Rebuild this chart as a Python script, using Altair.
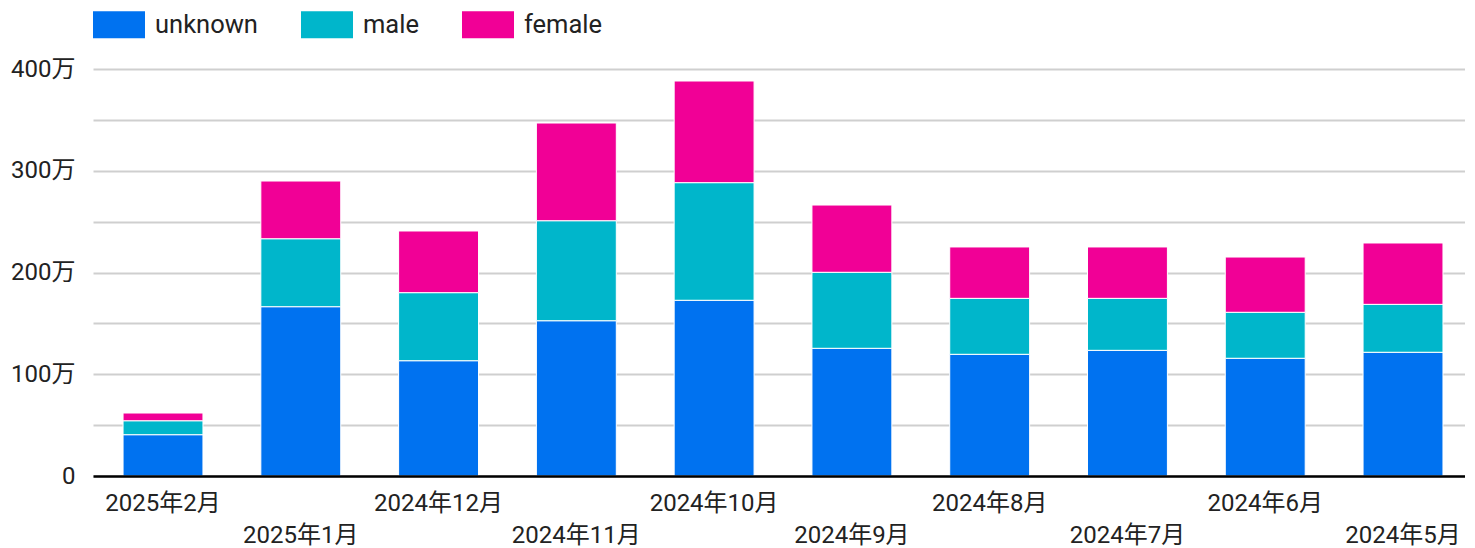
import altair as alt
import pandas as pd

months = ["2025年2月", "2025年1月", "2024年12月", "2024年11月", "2024年10月",
          "2024年9月", "2024年8月", "2024年7月", "2024年6月", "2024年5月"]
series = ["unknown", "male", "female"]
colors = ["#0072f0", "#00b6cb", "#f10096"]
unknown = [406000, 1664000, 1133000, 1526000, 1727000, 1255000, 1196000, 1235000, 1157000, 1216000]
male = [137000, 668000, 669000, 983000, 1156000, 747000, 550000, 511000, 452000, 471000]
female = [76000, 567000, 606000, 960000, 999000, 661000, 505000, 505000, 543000, 603000]
y_ticks = [0, 500000, 1000000, 1500000, 2000000, 2500000, 3000000, 3500000, 4000000]

rows = []
for i, m in enumerate(months):
    for j, (s, vals) in enumerate(zip(series, [unknown, male, female])):
        rows.append({"month": m, "gender": s, "value": vals[i], "order": j})
df = pd.DataFrame(rows)

FONT = "Roboto, 'Noto Sans CJK JP', sans-serif"
month_list = "[" + ",".join("'" + m + "'" for m in months) + "]"

chart = alt.Chart(df).mark_bar(stroke="white", strokeWidth=1).encode(
    x=alt.X("month:N", sort=months, title=None,
            scale=alt.Scale(paddingInner=0.42, paddingOuter=0.189, align=0.577),
            axis=alt.Axis(labelAngle=0, ticks=False, domainColor="black", domainWidth=2.5,
                          labelFontSize=24, labelColor="#222222", labelFont=FONT,
                          labelOverlap=False, labelBound=False, zindex=1,
                          labelPadding={"condition": {"test": "indexof(" + month_list + ", datum.value) % 2 == 1", "value": 47}, "value": 15})),
    y=alt.Y("value:Q", stack="zero", title=None,
            scale=alt.Scale(domain=[0, 4000000], nice=False),
            axis=alt.Axis(values=y_ticks, ticks=False, domain=False, gridColor="#cfcfcf", gridWidth=2,
                          labelFontSize=24, labelColor="#222222", labelFont=FONT, labelPadding=18,
                          labelExpr="datum.value % 1000000 != 0 ? '' : (datum.value == 0 ? '0' : format(datum.value / 10000, 'd') + '万')")),
    color=alt.Color("gender:N", scale=alt.Scale(domain=series, range=colors),
                    legend=alt.Legend(title=None, orient="none", direction="horizontal",
                                      legendX=0, legendY=-70.5,
                                      symbolType="M-1,-0.52L1,-0.52L1,0.52L-1,0.52Z", symbolSize=2704,
                                      symbolStrokeWidth=0, symbolOpacity=1,
                                      labelFontSize=25.5, labelFont=FONT, labelColor="#222222",
                                      labelOffset=10, columnPadding=43)),
    order=alt.Order("order:Q"),
).properties(
    width=1372, height=407,
    autosize=alt.AutoSizeParams(type="none"),
    padding={"left": 85, "top": 61, "right": 0, "bottom": 72},
).configure_view(stroke=None)

chart.save("out.html", embed_options={"renderer": "svg", "actions": False})
